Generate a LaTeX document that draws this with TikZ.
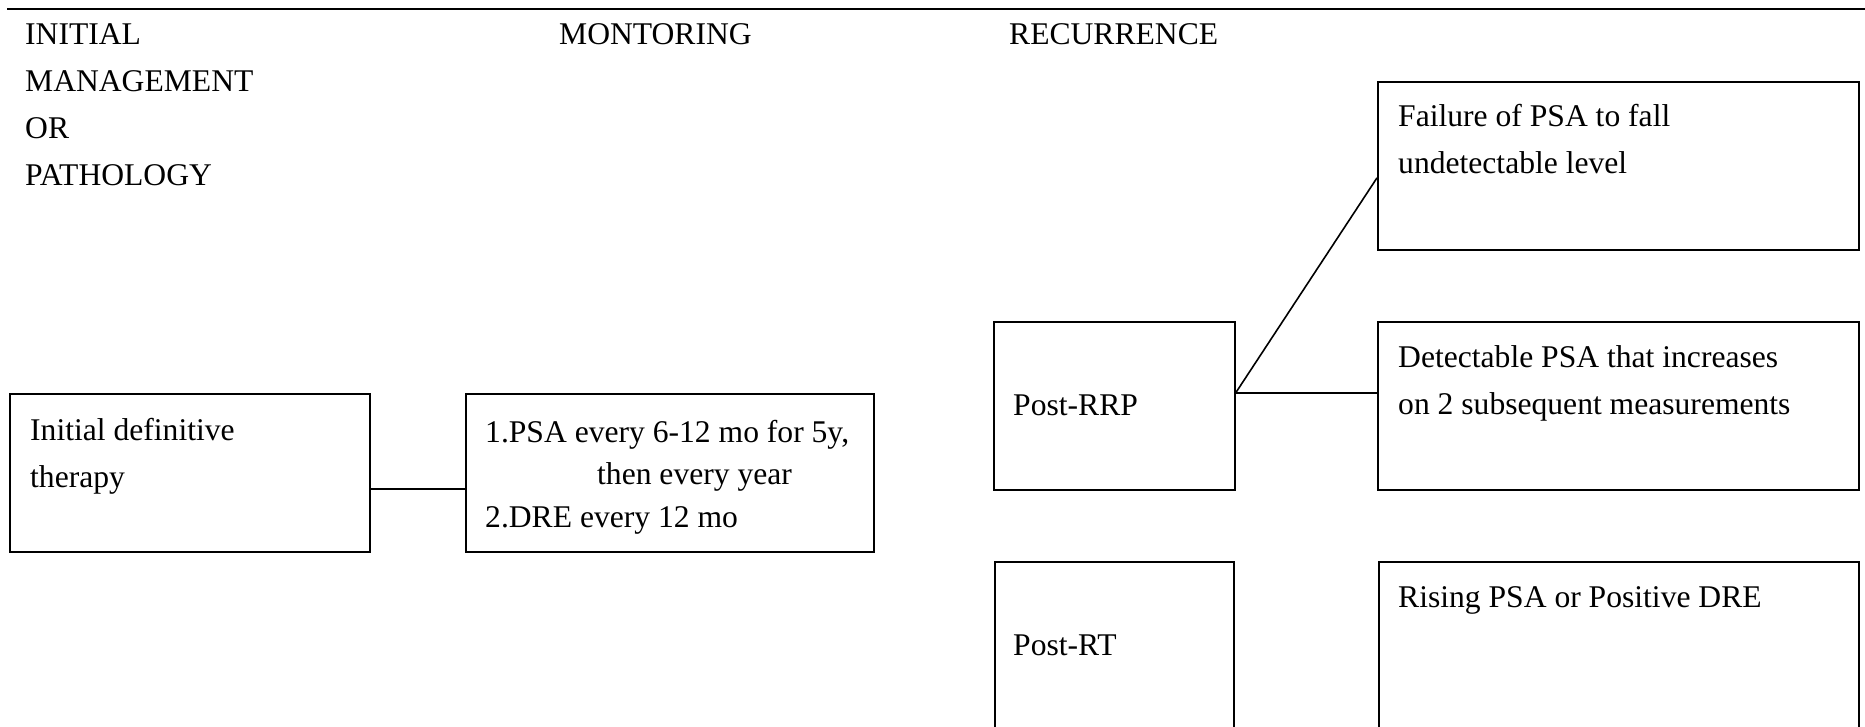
\documentclass[tikz,border=0pt]{standalone}
\usepackage{fontspec}
\setmainfont{Liberation Serif}
% stack of lines with a fixed distance between baselines; the node's baseline is the first line's
\newcommand{\linestack}[2]{\vtop{\baselineskip=#1\relax\lineskiplimit=-\maxdimen\lineskip=0pt\relax #2}}
\begin{document}
\begin{tikzpicture}[x=1pt,y=-1pt,
  box/.style={draw, line width=1.7pt, inner sep=0pt, anchor=north west},
  txt/.style={inner sep=0pt, anchor=base west, font=\fontsize{31.6}{47}\selectfont},
  link/.style={line width=1.6pt}]
\clip (0,0) rectangle (1865,727);

% heading rule and column titles
\coordinate (r0) at (7,9);
\coordinate (r1) at (1866,9);
\draw[line width=2.4pt] (r0) -- (r1);
\node[txt] (h1) at (25,45) {\linestack{47pt}{\hbox{INITIAL}\hbox{MANAGEMENT}\hbox{OR}\hbox{PATHOLOGY}}};
\node[txt] (h2) at (559,45) {MONTORING};
\node[txt] (h3) at (1009,45) {RECURRENCE};

% boxes (the two lowest run on past the bottom edge)
\node[box, minimum width=360pt, minimum height=158pt] (b1) at (9,393) {};
\node[box, minimum width=408pt, minimum height=158pt] (b2) at (465,393) {};
\node[box, minimum width=241pt, minimum height=168pt] (rrp) at (993,321) {};
\node[box, minimum width=239pt, minimum height=220pt] (rt) at (994,561) {};
\node[box, minimum width=481pt, minimum height=168pt] (fail) at (1377,81) {};
\node[box, minimum width=481pt, minimum height=168pt] (det) at (1377,321) {};
\node[box, minimum width=480pt, minimum height=220pt] (rise) at (1378,561) {};

% box texts
\node[txt] (t1) at (30,440) {\linestack{47pt}{\hbox{Initial definitive}\hbox{therapy}}};
\node[txt] (t2) at (485,442) {\linestack{42.5pt}{\hbox{1.PSA every 6-12 mo for 5y,}\hbox{\hskip112pt then every year}\hbox{2.DRE every 12 mo}}};
\node[txt] (t3) at (1013,415) {Post-RRP};
\node[txt] (t4) at (1013,655) {Post-RT};
\node[txt] (t5) at (1398,127) {\linestack{47pt}{\hbox{Failure of PSA to fall}\hbox{undetectable level}}};
\node[txt] (t6) at (1398,367) {\linestack{47pt}{\hbox{Detectable PSA that increases}\hbox{on 2 subsequent measurements}}};
\node[txt] (t7) at (1398,607) {Rising PSA or Positive DRE};

% connectors
\coordinate (j1) at (400,489);
\draw[link] (b1.east |- j1) -- (b2.west |- j1);
\coordinate (k) at ([yshift=13pt]rrp.east);
\draw[link] (k) -- (det.west |- k);
\draw[link] (k) -- ([yshift=-12pt]fail.west);
\end{tikzpicture}
\end{document}
